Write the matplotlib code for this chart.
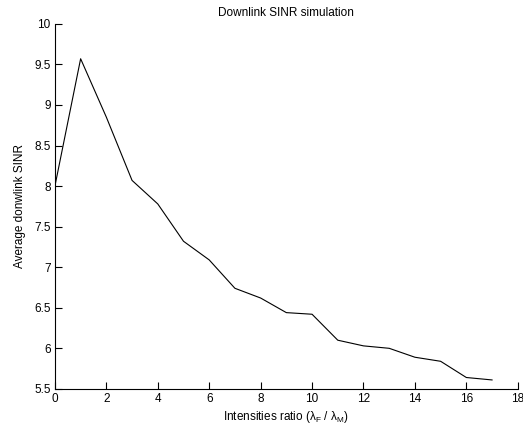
import matplotlib
matplotlib.use('Agg')
import matplotlib.pyplot as plt

# ratio lambda_F / lambda_M and averaged downlink SINR
ratio = [0, 1, 2, 3, 4, 5, 6, 7, 8, 9, 10, 11, 12, 13, 14, 15, 16, 17]
sinr = [8.00, 9.57, 8.85, 8.07, 7.78, 7.32, 7.09, 6.74, 6.62, 6.44,
        6.42, 6.10, 6.03, 6.00, 5.89, 5.84, 5.64, 5.61]

xticks = list(range(0, 19, 2))
yticks = [5.5, 6, 6.5, 7, 7.5, 8, 8.5, 9, 9.5, 10]
ytick_labels = ['5.5', '6', '6.5', '7', '7.5', '8', '8.5', '9', '9.5', '10']

plt.rcParams['font.family'] = ['Liberation Sans', 'DejaVu Sans']
plt.rcParams['font.size'] = 8.5
plt.rcParams['mathtext.fontset'] = 'custom'
plt.rcParams['mathtext.rm'] = 'Liberation Sans'
plt.rcParams['mathtext.it'] = 'Liberation Sans'
plt.rcParams['mathtext.sf'] = 'Liberation Sans'

fig = plt.figure(figsize=(5.23, 4.34), dpi=100)
ax = fig.add_axes([0.105, 0.104, 0.885, 0.841])

ax.plot(ratio, sinr, color='black', linewidth=0.8)

ax.set_xlim(0, 18)
ax.set_ylim(5.5, 10)
ax.set_xticks(xticks)
ax.set_yticks(yticks)
ax.set_yticklabels(ytick_labels)

ax.spines['top'].set_visible(False)
ax.spines['right'].set_visible(False)
for s in ('left', 'bottom'):
    ax.spines[s].set_linewidth(0.8)
ax.tick_params(direction='in', length=5, width=0.8, pad=3, colors='black')

ax.set_title('Downlink SINR simulation', fontsize=8.5, pad=6)
ax.set_xlabel(r'Intensities ratio ($\mathregular{\lambda_F}$ / $\mathregular{\lambda_M}$)', labelpad=3)
ax.set_ylabel('Average donwlink SINR', labelpad=6)

fig.savefig('out.png', dpi=100)
